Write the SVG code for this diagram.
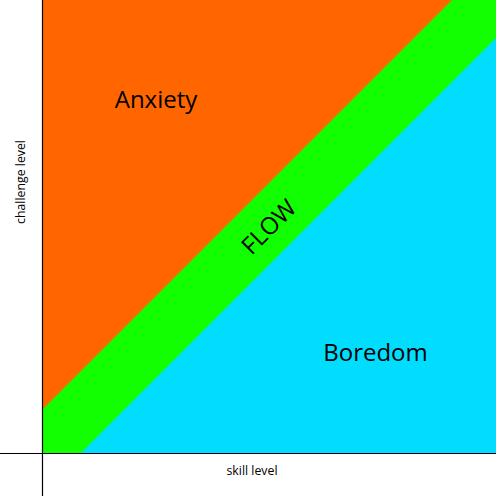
<svg xmlns="http://www.w3.org/2000/svg" width="496" height="496" viewBox="0 0 496 496">
<style>
text{font-family:"Open Sans","DejaVu Sans",sans-serif;fill:#000}
.big{font-size:24px}
.small{font-size:12.3px}
.axis{stroke:#000;stroke-width:1.2;fill:none}
</style>
<rect width="496" height="496" fill="#fff"/>
<g id="flow"><rect x="42" y="0" width="454" height="453" fill="#11FF00"/>
<text class="big" transform="translate(268,226) rotate(-45)" text-anchor="middle" dominant-baseline="central">FLOW</text></g>
<g id="anxiety"><polygon points="42,0 452,0 42,410" fill="#FF6600"/>
<text class="big" x="156" y="108" text-anchor="middle">Anxiety</text></g>
<g id="boredom"><polygon points="81,453 496,38 496,453" fill="#00DDFF"/>
<text class="big" x="375.5" y="361" text-anchor="middle">Boredom</text></g>
<g id="axes">
<line class="axis" x1="42.5" y1="0" x2="42.5" y2="496"/>
<line class="axis" x1="0" y1="453.5" x2="496" y2="453.5"/>
<text class="small" x="252" y="475" text-anchor="middle">skill level</text>
<text class="small" transform="translate(25,182) rotate(-90)" text-anchor="middle">challenge level</text>
</g>
</svg>
